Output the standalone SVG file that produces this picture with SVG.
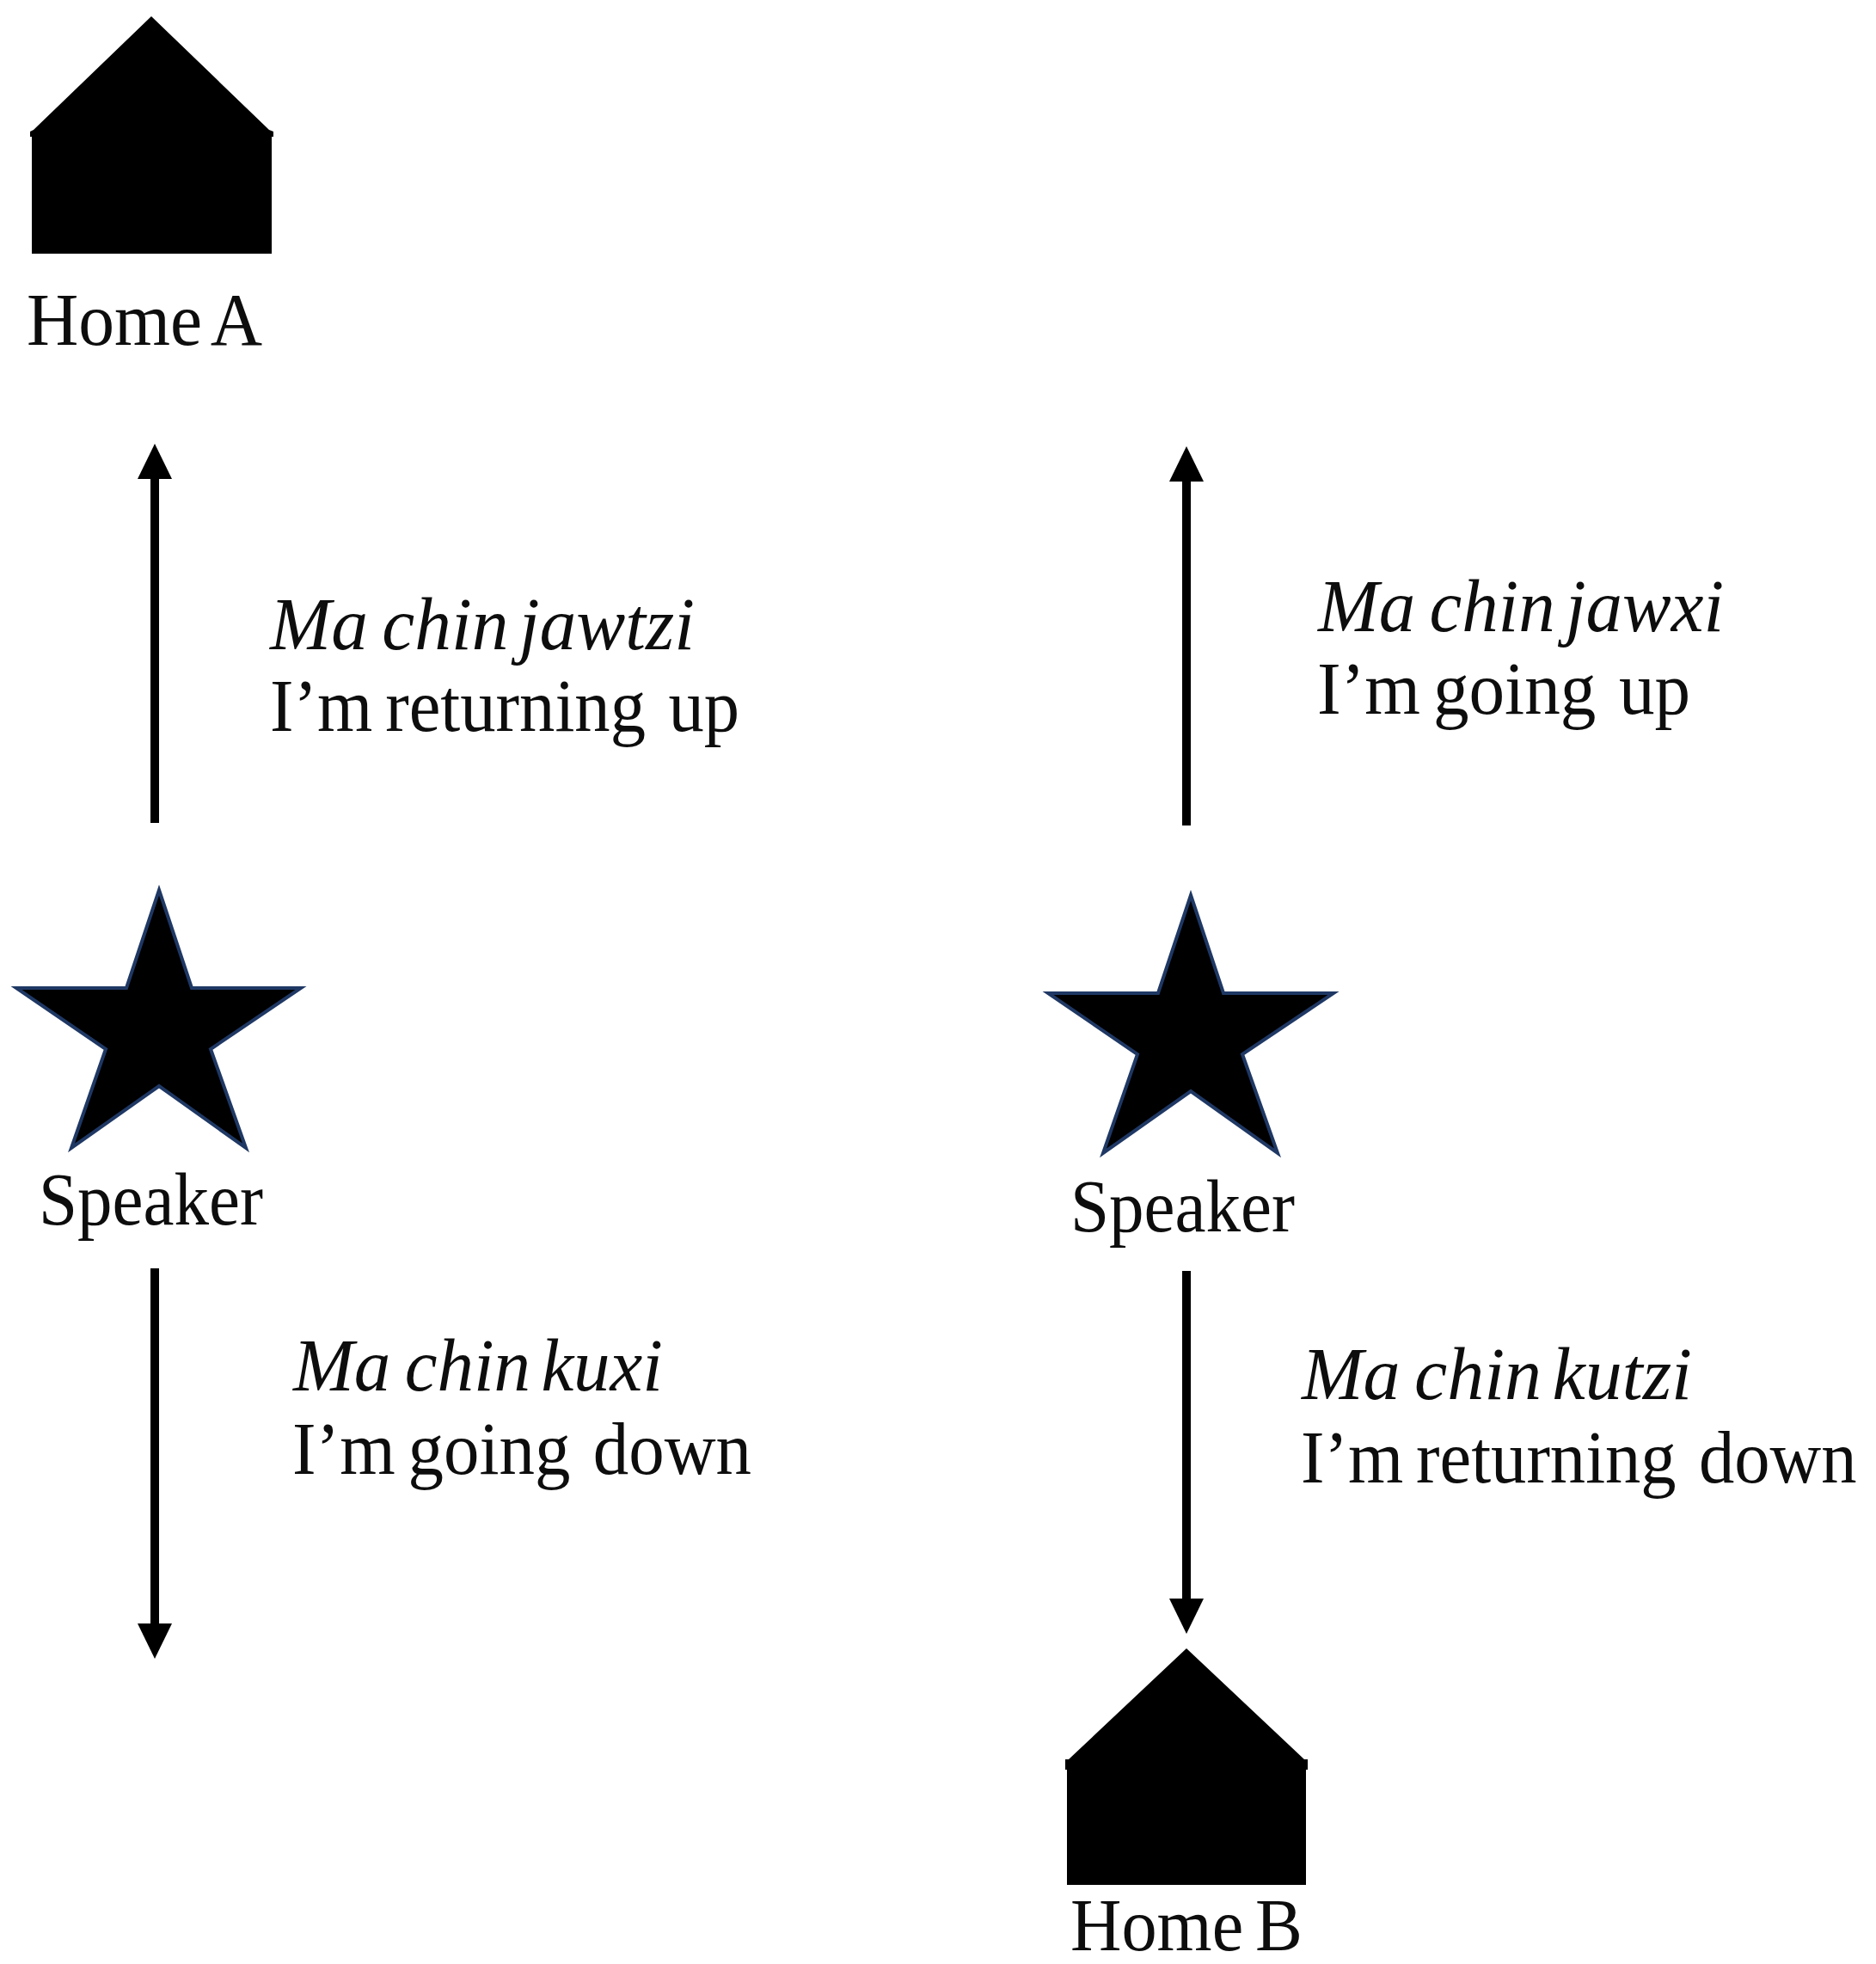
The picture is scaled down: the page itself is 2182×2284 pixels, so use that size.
<svg xmlns="http://www.w3.org/2000/svg" width="2182" height="2284" viewBox="0 0 2182 2284">
<style>
text{font-family:"Liberation Serif","Times New Roman",serif;font-size:86px;fill:#0d0d0d}
.i{font-style:italic}
.c{stroke:#000;stroke-width:10;fill:none;marker-end:url(#a)}
.h{fill:#000}
.s{fill:#000;stroke:#1f3864;stroke-width:4;stroke-miterlimit:10}
</style>
<defs>
<marker id="a" markerUnits="userSpaceOnUse" markerWidth="42" markerHeight="42" refX="1" refY="20" orient="auto"><path d="M0 0L41 20L0 40Z" fill="#000"/></marker>
</defs>
<rect width="2182" height="2284" fill="#fff"/>
<g id="connectors">
<path class="c" d="M180 957V556"/>
<path class="c" d="M1380 960V559"/>
<path class="c" d="M180 1475V1889"/>
<path class="c" d="M1380 1478V1860"/>
</g>
<g id="home-a">
<path class="h" d="M176 19L313 151L318 153V159H316V295H37V159H35V153L39 151Z"/>
<text x="31" y="401" textLength="274" lengthAdjust="spacingAndGlyphs" word-spacing="-7">Home A</text>
</g>
<g id="home-b">
<path class="h" d="M1380 1917L1517 2046H1521V2058H1519V2192H1241V2058H1239V2046H1243Z"/>
<text x="1245" y="2268" textLength="270" lengthAdjust="spacingAndGlyphs" word-spacing="-7">Home B</text>
</g>
<g id="speaker-a">
<polygon class="s" points="185,1035 223,1149 350,1149 245,1220 286,1335 185,1263 83,1335 123,1220 19,1149 147,1149"/>
<text x="45" y="1424" textLength="261" lengthAdjust="spacingAndGlyphs">Speaker</text>
</g>
<g id="speaker-b">
<polygon class="s" points="1385,1041 1423,1155 1551,1155 1445,1226 1486,1341 1385,1269 1283,1341 1323,1226 1219,1155 1347,1155"/>
<text x="1245" y="1432" textLength="261" lengthAdjust="spacingAndGlyphs">Speaker</text>
</g>
<g id="label-returning-up">
<text class="i" x="314" y="755" textLength="494" lengthAdjust="spacingAndGlyphs">Ma <tspan dx="-5">chin </tspan><tspan dx="-9">jawtzi</tspan></text>
<text x="314" y="850" textLength="546" lengthAdjust="spacingAndGlyphs">I’m <tspan dx="-6">returning </tspan><tspan dx="6">up</tspan></text>
</g>
<g id="label-going-down">
<text class="i" x="341" y="1617" textLength="430" lengthAdjust="spacingAndGlyphs">Ma <tspan dx="-5">chin </tspan><tspan dx="-9">kuxi</tspan></text>
<text x="340" y="1714" textLength="534" lengthAdjust="spacingAndGlyphs">I’m <tspan dx="-6">going </tspan><tspan dx="6">down</tspan></text>
</g>
<g id="label-going-up">
<text class="i" x="1533" y="734" textLength="472" lengthAdjust="spacingAndGlyphs">Ma <tspan dx="-5">chin </tspan><tspan dx="-9">jawxi</tspan></text>
<text x="1532" y="830" textLength="434" lengthAdjust="spacingAndGlyphs">I’m <tspan dx="-6">going </tspan><tspan dx="6">up</tspan></text>
</g>
<g id="label-returning-down">
<text class="i" x="1514" y="1627" textLength="454" lengthAdjust="spacingAndGlyphs">Ma <tspan dx="-5">chin </tspan><tspan dx="-9">kutzi</tspan></text>
<text transform="translate(1513 1724) scale(.96 1)">I’m <tspan dx="-6">returning </tspan><tspan dx="6">down</tspan></text>
</g>
</svg>
